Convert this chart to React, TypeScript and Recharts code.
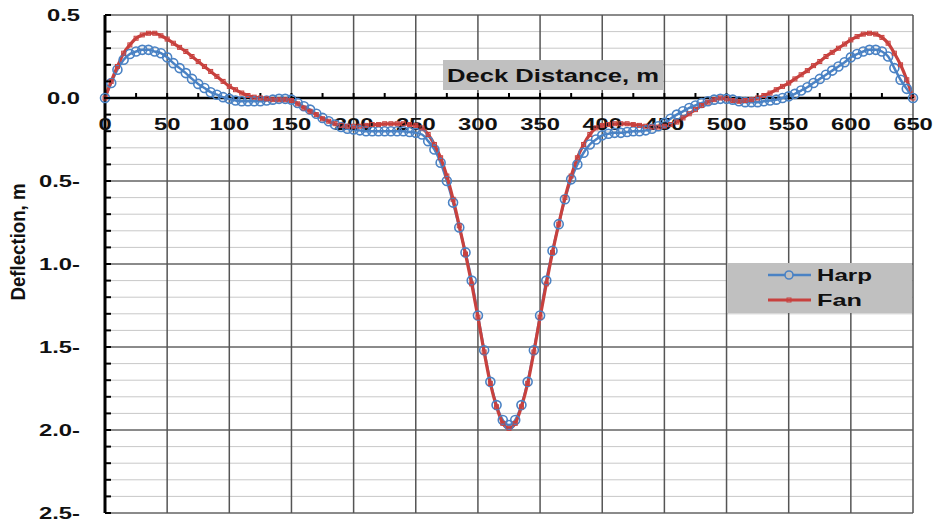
import {
  LineChart,
  Line,
  XAxis,
  YAxis,
  CartesianGrid,
  ReferenceLine,
  ReferenceDot,
} from "recharts";

// deck distance (m), one reading every 5 m
const DISTANCE = [
  0, 5, 10, 15, 20, 25, 30, 35, 40, 45,
  50, 55, 60, 65, 70, 75, 80, 85, 90, 95,
  100, 105, 110, 115, 120, 125, 130, 135, 140, 145,
  150, 155, 160, 165, 170, 175, 180, 185, 190, 195,
  200, 205, 210, 215, 220, 225, 230, 235, 240, 245,
  250, 255, 260, 265, 270, 275, 280, 285, 290, 295,
  300, 305, 310, 315, 320, 325, 330, 335, 340, 345,
  350, 355, 360, 365, 370, 375, 380, 385, 390, 395,
  400, 405, 410, 415, 420, 425, 430, 435, 440, 445,
  450, 455, 460, 465, 470, 475, 480, 485, 490, 495,
  500, 505, 510, 515, 520, 525, 530, 535, 540, 545,
  550, 555, 560, 565, 570, 575, 580, 585, 590, 595,
  600, 605, 610, 615, 620, 625, 630, 635, 640, 645,
  650,
];

const HARP = [
  0, 0.09, 0.17, 0.23, 0.265, 0.28, 0.29, 0.29, 0.28, 0.27,
  0.245, 0.21, 0.18, 0.15, 0.115, 0.085, 0.06, 0.035, 0.02, 0.005,
  -0.005, -0.015, -0.02, -0.02, -0.02, -0.02, -0.015, -0.01, -0.005, -0.005,
  -0.01, -0.03, -0.05, -0.07, -0.095, -0.12, -0.14, -0.16, -0.175, -0.185,
  -0.19, -0.195, -0.2, -0.2, -0.2, -0.2, -0.2, -0.2, -0.2, -0.205,
  -0.21, -0.22, -0.26, -0.31, -0.39, -0.5, -0.63, -0.78, -0.93, -1.1,
  -1.31, -1.52, -1.71, -1.85, -1.94, -1.97, -1.94, -1.85, -1.71, -1.52,
  -1.31, -1.1, -0.92, -0.76, -0.61, -0.49, -0.4, -0.33, -0.28, -0.25,
  -0.225, -0.215, -0.21, -0.21, -0.205, -0.2, -0.2, -0.195, -0.185, -0.17,
  -0.15, -0.125, -0.1, -0.08, -0.06, -0.045, -0.03, -0.02, -0.01, -0.005,
  -0.005, -0.01, -0.02, -0.025, -0.025, -0.025, -0.02, -0.015, -0.01, 0,
  0.01, 0.025, 0.045, 0.065, 0.09, 0.115, 0.14, 0.165, 0.19, 0.215,
  0.245, 0.265, 0.28, 0.29, 0.29, 0.28, 0.25, 0.18, 0.11, 0.055,
  0,
];

const FAN = [
  0, 0.1, 0.19, 0.27, 0.32, 0.36, 0.38, 0.39, 0.39, 0.375,
  0.355, 0.33, 0.305, 0.28, 0.25, 0.22, 0.19, 0.16, 0.13, 0.1,
  0.07, 0.05, 0.03, 0.015, 0.005, 0, -0.005, -0.01, -0.01, -0.01,
  -0.015, -0.035, -0.06, -0.08, -0.1, -0.125, -0.14, -0.155, -0.165, -0.17,
  -0.17, -0.17, -0.165, -0.16, -0.16, -0.155, -0.155, -0.155, -0.155, -0.16,
  -0.165, -0.18, -0.22, -0.28, -0.36, -0.47, -0.61, -0.77, -0.94, -1.12,
  -1.32, -1.53, -1.72, -1.86, -1.96, -1.99, -1.96, -1.86, -1.72, -1.53,
  -1.32, -1.12, -0.93, -0.76, -0.6, -0.47, -0.36, -0.28, -0.22, -0.18,
  -0.165, -0.16, -0.155, -0.155, -0.155, -0.16, -0.165, -0.17, -0.175, -0.175,
  -0.17, -0.16, -0.145, -0.12, -0.095, -0.07, -0.045, -0.025, -0.01, 0,
  -0.005, -0.015, -0.02, -0.015, -0.01, 0, 0.015, 0.03, 0.05, 0.07,
  0.09, 0.115, 0.14, 0.165, 0.195, 0.22, 0.25, 0.275, 0.3, 0.325,
  0.35, 0.37, 0.385, 0.39, 0.385, 0.365, 0.33, 0.27, 0.2, 0.11,
  0,
];

const Y_TICKS = [
  0.5, 0.4, 0.3, 0.2, 0.1, 0, -0.1, -0.2, -0.3, -0.4,
  -0.5, -0.6, -0.7, -0.8, -0.9, -1, -1.1, -1.2, -1.3, -1.4,
  -1.5, -1.6, -1.7, -1.8, -1.9, -2, -2.1, -2.2, -2.3, -2.4, -2.5,
];
const Y_MAJOR = [0.5, -0.5, -1, -1.5, -2, -2.5];
const X_TICKS = [
  0, 25, 50, 75, 100, 125, 150, 175, 200, 225, 250, 275, 300, 325,
  350, 375, 400, 425, 450, 475, 500, 525, 550, 575, 600, 625, 650,
];
const X_MAJOR = [50, 100, 150, 200, 250, 300, 350, 400, 450, 500, 550, 600, 650];

const data = DISTANCE.map((d, i) => ({ x: d, harp: HARP[i], fan: FAN[i] }));

const BLUE = "#4a82c4";
const RED = "#c8413e";
const FONT = "'Liberation Sans', Arial, sans-serif";
const STRETCH = 1.4;

const fmtY = (v: number) => {
  if (v > 0) return v.toFixed(1);
  if (v === 0) return "0.0";
  return Math.abs(v).toFixed(1) + "-";
};

function YTick(props: any) {
  const { x, y, payload } = props;
  const v = payload.value as number;
  const major = Math.abs(v * 2 - Math.round(v * 2)) < 1e-6;
  return (
    <g>
      <line x1={x} x2={x + 6} y1={y} y2={y} stroke="#000" strokeWidth={2} />
      {major && (
        <text
          transform={`translate(${x - 25},${y + 6}) scale(${STRETCH},1)`}
          textAnchor="end"
          fontFamily={FONT}
          fontWeight="bold"
          fontSize={17}
          fill="#111"
        >
          {fmtY(v)}
        </text>
      )}
    </g>
  );
}

function XTickShape(props: any) {
  const { cx, cy, value } = props;
  return (
    <g>
      <line x1={cx} x2={cx} y1={cy - 5} y2={cy} stroke="#000" strokeWidth={2} />
      {value % 50 === 0 && (
        <text
          transform={`translate(${cx},${cy + 32}) scale(${STRETCH},1)`}
          textAnchor="middle"
          fontFamily={FONT}
          fontWeight="bold"
          fontSize={17}
          fill="#111"
        >
          {value}
        </text>
      )}
    </g>
  );
}

const HarpDot = (p: any) => (
  <circle key={`h${p.index}`} cx={p.cx} cy={p.cy} r={4.5} fill="none" stroke={BLUE} strokeWidth={1.6} />
);
const FanDot = (p: any) => (
  <rect key={`f${p.index}`} x={p.cx - 2} y={p.cy - 2} width={4} height={4} fill="none" stroke={RED} strokeWidth={1} />
);

function LegendBox() {
  return (
    <svg width={185} height={50} style={{ display: "block" }}>
      <rect x={0} y={0} width={185} height={50} fill="#c0c0c0" />
      <line x1={41} x2={84} y1={12} y2={12} stroke={BLUE} strokeWidth={2.5} />
      <circle cx={62} cy={12} r={4} fill="#c0c0c0" stroke={BLUE} strokeWidth={1.6} />
      <text x={90} y={18} fontFamily={FONT} fontWeight="bold" fontSize={17} textLength={55} lengthAdjust="spacingAndGlyphs" fill="#111">Harp</text>
      <line x1={41} x2={84} y1={37} y2={37} stroke={RED} strokeWidth={3} />
      <rect x={60} y={35} width={4} height={4} fill="none" stroke={RED} strokeWidth={1} />
      <text x={90} y={43} fontFamily={FONT} fontWeight="bold" fontSize={17} textLength={45} lengthAdjust="spacingAndGlyphs" fill="#111">Fan</text>
    </svg>
  );
}

export default function App() {
  return (
    <div style={{ position: "absolute", left: 0, top: 0, width: 939, height: 520, background: "#fff" }}>
      <LineChart width={939} height={520} data={data} margin={{ top: 15, right: 26, bottom: 7, left: 0 }}>
        <CartesianGrid horizontal vertical={false} stroke="#c8c8c8" strokeWidth={1} />
        <XAxis type="number" dataKey="x" domain={[0, 650]} hide />
        <YAxis
          type="number"
          domain={[-2.5, 0.5]}
          ticks={Y_TICKS}
          interval={0}
          width={105}
          tickSize={0}
          tickMargin={0}
          tickLine={false}
          axisLine={{ stroke: "#000", strokeWidth: 3 }}
          tick={<YTick />}
        />
        {Y_MAJOR.map((v) => (
          <ReferenceLine key={`ym${v}`} y={v} stroke="#333" strokeWidth={1.2} />
        ))}
        {X_MAJOR.map((v) => (
          <ReferenceLine key={`xm${v}`} x={v} stroke="#555" strokeWidth={1.5} />
        ))}
        <ReferenceLine y={0} stroke="#000" strokeWidth={2.5} />
        {X_TICKS.map((v) => (
          <ReferenceDot
            key={`xt${v}`}
            x={v}
            y={0}
            r={0}
            shape={(p: any) => <XTickShape {...p} value={v} />}
          />
        ))}
        <Line
          dataKey="harp"
          name="Harp"
          type="monotone"
          stroke={BLUE}
          strokeWidth={2.5}
          dot={HarpDot}
          activeDot={false}
          isAnimationActive={false}
        />
        <Line
          dataKey="fan"
          name="Fan"
          type="monotone"
          stroke={RED}
          strokeWidth={3.2}
          dot={FanDot}
          activeDot={false}
          isAnimationActive={false}
        />
      </LineChart>
      <div style={{ position: "absolute", left: 727, top: 263, width: 185, height: 50 }}>
        <LegendBox />
      </div>
      <div style={{ position: "absolute", left: 443, top: 60, width: 220, height: 30, background: "#c0c0c0" }}>
        <svg width={220} height={30} style={{ display: "block" }}>
          <text x={4} y={22} fontFamily={FONT} fontWeight="bold" fontSize={18} textLength={212} lengthAdjust="spacingAndGlyphs" fill="#111">
            Deck Distance, m
          </text>
        </svg>
      </div>
      <svg width={40} height={160} style={{ position: "absolute", left: 0, top: 162 }}>
        <text
          transform="translate(25,80) rotate(-90) scale(1,1.25)"
          textAnchor="middle"
          fontFamily={FONT}
          fontWeight="bold"
          fontSize={16}
          textLength={117}
          lengthAdjust="spacingAndGlyphs"
          fill="#111"
        >
          Deflection, m
        </text>
      </svg>
    </div>
  );
}
